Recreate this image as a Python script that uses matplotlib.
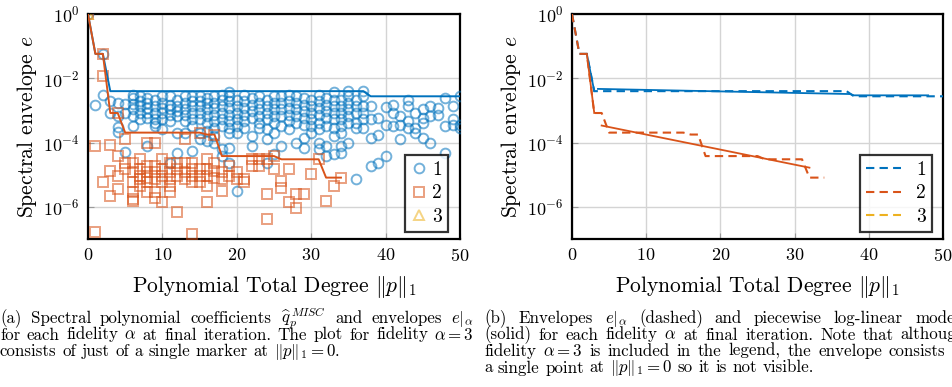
import numpy as np
import matplotlib.pyplot as plt

plt.rcParams['font.family'] = 'serif'
plt.rcParams['font.serif'] = ['cmr10']
plt.rcParams['mathtext.fontset'] = 'cm'
plt.rcParams['axes.formatter.use_mathtext'] = True

# log10 of spectral coefficients, one list per total degree 0, 1, 2, ...
fid1_exp = [
    [0.0],
    [-2.83],
    [-1.24, -2.53],
    [-3.08, -2.71],
    [-3.18, -3.52, -3.66, -2.77],
    [-2.79, -3.08, -4.29],
    [-2.51, -2.61, -2.79, -2.97, -3.18, -3.49],
    [-2.56, -2.71, -2.87, -3.08, -3.28],
    [-2.61, -2.77, -2.92, -3.08, -3.23, -4.11],
    [-2.66, -2.87, -3.08, -3.28, -3.49, -3.40],
    [-2.56, -2.77, -2.92, -3.08, -3.28, -3.59],
    [-2.56, -2.82, -2.97, -3.13, -3.33, -4.62],
    [-2.66, -2.87, -3.02, -3.18, -3.69, -4.31],
    [-2.56, -2.77, -2.97, -3.13, -3.33, -3.69],
    [-2.56, -2.71, -2.87, -3.08, -3.28, -3.49, -4.26],
    [-2.56, -2.71, -2.87, -3.08, -3.28, -3.69, -3.90],
    [-2.61, -2.77, -2.97, -3.18, -3.38, -3.64, -3.95],
    [-2.56, -2.77, -2.92, -3.13, -3.33, -3.54, -3.80, -4.00],
    [-2.51, -2.66, -2.87, -3.08, -3.28, -3.49, -4.21, -4.42],
    [-2.42, -2.56, -2.71, -2.92, -3.13, -3.33, -3.54, -3.69, -4.16, -4.62],
    [-2.66, -2.87, -3.08, -3.28, -3.49, -3.69, -5.50],
    [-2.51, -2.71, -2.92, -3.13, -3.33, -3.54],
    [-2.61, -2.82, -3.02, -3.23, -3.80, -4.11],
    [-2.56, -2.77, -2.97, -3.18, -3.38, -3.54],
    [-2.66, -2.87, -3.08, -3.28, -3.59, -3.90, -4.62],
    [-2.56, -2.77, -2.97, -3.18, -3.38, -3.69, -4.37],
    [-2.56, -2.77, -2.97, -3.18, -3.49, -4.11],
    [-2.51, -2.71, -2.92, -3.13, -3.33, -3.59],
    [-2.56, -2.77, -2.97, -3.18, -3.38, -4.00],
    [-2.61, -2.82, -3.02, -3.23, -3.44, -3.85, -4.16],
    [-2.66, -2.87, -3.08, -3.28, -3.49, -3.69],
    [-2.51, -2.71, -2.92, -3.13, -3.38, -3.59, -4.00, -4.21],
    [-2.61, -2.82, -3.02, -3.23, -3.49, -4.11, -4.42],
    [-2.44, -2.66, -2.87, -3.08, -3.28, -3.54, -3.80, -4.37],
    [-2.66, -2.87, -3.08, -3.28, -3.49, -3.69, -4.11, -4.31],
    [-2.41, -2.56, -2.77, -2.97, -3.18, -3.38, -4.00],
    [-2.66, -2.87, -3.08, -3.38, -3.54, -5.12],
    [-2.40, -2.56, -2.87, -3.08, -3.28, -3.54],
    [-2.87, -3.28, -3.85, -4.73],
    [-3.23, -3.75, -4.62],
    [-2.89, -3.44, -4.42],
    [-2.82, -3.08, -3.49],
    [-3.18, -3.44, -3.90],
    [-2.66, -2.87, -3.33, -3.54],
    [-3.08, -3.54, -3.69],
    [-2.97, -3.23, -3.38, -3.85],
    [-2.87, -3.18, -4.00],
    [-2.92, -3.13],
    [-2.61, -3.49, -4.31],
    [-2.87, -3.28, -3.44],
    [-2.56, -3.44, -3.54],
]

fid2_exp = [
    [0.0],
    [-4.11, -6.79],
    [-1.24, -1.94, -5.24],
    [-4.06, -4.88, -5.66],
    [-3.08, -4.42, -5.04, -5.45],
    [-3.90, -4.62, -4.83],
    [-4.62, -4.93, -5.24, -5.55, -5.81, -5.76],
    [-4.52, -4.83, -5.04, -5.14, -5.35],
    [-4.73, -4.93, -5.09, -5.24, -5.55, -4.00],
    [-4.00, -4.73, -4.93, -5.14, -5.55, -5.71],
    [-4.52, -4.83, -5.04, -5.24, -5.86],
    [-4.62, -4.93, -5.14, -5.35, -5.55],
    [-4.62, -4.83, -5.04, -6.17],
    [-3.90, -4.62, -4.93, -5.14],
    [-4.62, -4.83, -5.04, -5.24, -6.84],
    [-3.69, -4.83, -5.04, -5.24],
    [-4.52, -4.83, -5.04, -5.35, -5.86],
    [-3.75, -4.62, -4.88, -5.09],
    [-4.93, -5.14, -5.50],
    [-4.73, -5.04],
    [-4.93, -5.14],
    [-5.14, -5.24],
    [-4.73, -4.52],
    [-4.52, -4.73],
    [-4.52, -5.60, -6.38],
    [-4.42, -4.83],
    [-5.19, -5.40],
    [-4.83, -5.86],
    [-5.60, -6.02],
    [-5.60],
    [-4.98],
    [-4.52],
    [-5.81],
    [-5.35],
    [-5.09],
]

fid3_exp = [[0.0]]

# piecewise log-linear models (log10), NaN separates pieces
model1_deg = [2, 3, np.nan, 3.5, 37.5, 38, 48]
model1_exp = [-1.24, -2.40, np.nan, -2.33, -2.49, -2.53, -2.53]
model2_deg = [2, 3, np.nan, 4, 32]
model2_exp = [-1.24, -3.08, np.nan, -3.47, -4.78]

labels = ['1', '2', '3']
colors = ['#0072BD', '#D95319', '#EDB120']
markers = ['o', 's', '^']

cap_a = [
    r'(a) Spectral polynomial coefficients $\widehat{q}_{p}^{\,MISC}$ and envelopes $e|_{\alpha}$',
    r'for each fidelity $\alpha$ at final iteration. The plot for fidelity $\alpha = 3$',
    r'consists of just of a single marker at $\Vert p\Vert_1 = 0$.',
]
cap_b = [
    r'(b) Envelopes $e|_{\alpha}$ (dashed) and piecewise log-linear models',
    r'(solid) for each fidelity $\alpha$ at final iteration. Note that although',
    r'fidelity $\alpha = 3$ is included in the legend, the envelope consists of',
    r'a single point at $\Vert p\Vert_1 = 0$ so it is not visible.',
]


def flatten(exps):
    deg = np.concatenate([[d] * len(v) for d, v in enumerate(exps)])
    val = 10.0 ** np.concatenate(exps)
    return deg, val


def envelope(exps):
    top = np.array([max(v) for v in exps])
    env = np.maximum.accumulate(top[::-1])[::-1]
    return np.arange(len(exps)), 10.0 ** env


def style_axes(ax):
    ax.set_yscale('log')
    ax.set_xlim(0, 50)
    ax.set_ylim(1e-7, 1e0)
    ax.set_xticks([0, 10, 20, 30, 40, 50])
    ax.set_yticks([1e0, 1e-2, 1e-4, 1e-6])
    ax.minorticks_off()
    ax.grid(True, color='#d4d4d4', lw=1.0)
    ax.set_axisbelow(True)
    ax.tick_params(direction='in', length=4, color='#9a9a9a', labelsize=13, pad=6)
    for s in ax.spines.values():
        s.set_linewidth(1.6)
    ax.set_xlabel(r'Polynomial Total Degree $\Vert p\Vert_1$', fontsize=15.5, labelpad=7)
    ax.set_ylabel(r'Spectral envelope $e$', fontsize=15.5, labelpad=3)


def split_words(line):
    # split on spaces that are not inside $...$
    words, cur, in_math = [], '', False
    for ch in line:
        if ch == '$':
            in_math = not in_math
        if ch == ' ' and not in_math:
            words.append(cur)
            cur = ''
        else:
            cur += ch
    words.append(cur)
    return words


def justified_caption(fig, lines, x0, x1, ys, size):
    # LaTeX-like justified paragraph, last line left aligned
    W, H = fig.bbox.width, fig.bbox.height
    fig.canvas.draw()
    r = fig.canvas.get_renderer()
    for i, (line, y) in enumerate(zip(lines, ys)):
        words = split_words(line)
        texts = [fig.text(0, 1 - y / H, w, fontsize=size, va='baseline', ha='left')
                 for w in words]
        widths = [t.get_window_extent(r).width for t in texts]
        if i < len(lines) - 1:
            gap = (x1 - x0 - sum(widths)) / (len(words) - 1)
        else:
            gap = 0.33 * size * fig.dpi / 72
        x = x0
        for t, w in zip(texts, widths):
            t.set_x(x / W)
            x += w + gap


fig = plt.figure(figsize=(9.53, 3.87), dpi=100)
ax1 = fig.add_axes([0.0923, 0.3824, 0.3904, 0.5814])
ax2 = fig.add_axes([0.6002, 0.3824, 0.3893, 0.5814])

all_exp = [fid1_exp, fid2_exp, fid3_exp]

# (a) coefficients and envelopes
for exps, c, m, lab in zip(all_exp, colors, markers, labels):
    d, v = flatten(exps)
    ax1.plot(d, v, m, mfc='none', mec=c, mew=1.4, ms=7, alpha=0.55,
             label=lab, zorder=3)
for exps, c in zip(all_exp[:2], colors[:2]):
    d, e = envelope(exps)
    ax1.plot(d, e, '-', color=c, lw=1.4, zorder=4)
style_axes(ax1)
leg1 = ax1.legend(loc='lower right', bbox_to_anchor=(0.968, 0.031), fontsize=14,
                  frameon=True, fancybox=False, handlelength=0.8, handletextpad=0.3,
                  borderpad=0.3, labelspacing=0.3, borderaxespad=0)
leg1.get_frame().set_edgecolor('black')
leg1.get_frame().set_linewidth(1.6)

# (b) envelopes (dashed) and models (solid)
for exps, c, lab in zip(all_exp, colors, labels):
    d, e = envelope(exps)
    ax2.plot(d, e, '--', color=c, lw=1.5, dashes=(4, 2.5), label=lab, zorder=3)
ax2.plot(model1_deg, 10.0 ** np.array(model1_exp), '-', color=colors[0], lw=1.3, zorder=4)
ax2.plot(model2_deg, 10.0 ** np.array(model2_exp), '-', color=colors[1], lw=1.3, zorder=4)
style_axes(ax2)
leg2 = ax2.legend(loc='lower right', bbox_to_anchor=(0.970, 0.031), fontsize=14,
                  frameon=True, fancybox=False, handlelength=1.8, handletextpad=0.8,
                  borderpad=0.3, labelspacing=0.3, borderaxespad=0)
leg2.get_frame().set_edgecolor('black')
leg2.get_frame().set_linewidth(1.6)

# captions
ys = [323, 339.5, 356, 372.5]
justified_caption(fig, cap_a, 0, 474, ys, 12.2)
justified_caption(fig, cap_b, 484, 966, ys, 12.2)

fig.savefig('out.png', dpi=100)
